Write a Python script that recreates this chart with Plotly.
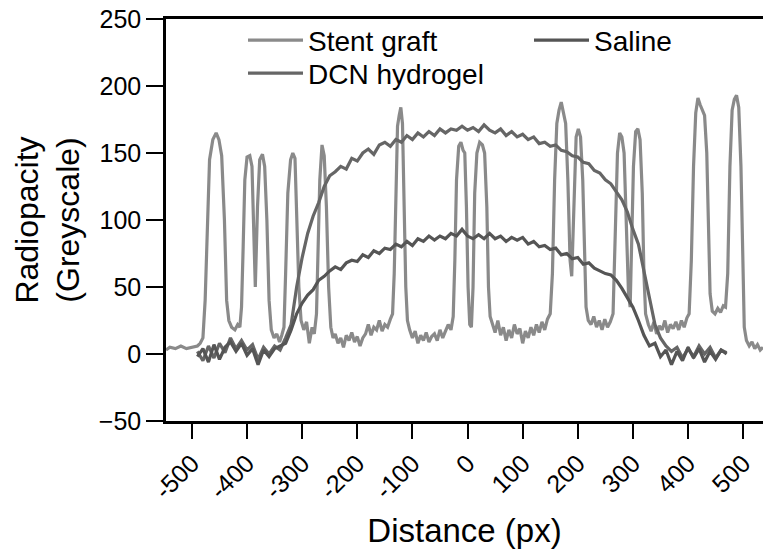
import plotly.graph_objects as go

# ---------------- data ----------------
# Stent graft profile: distance (px) and radiopacity
stent_x = [-547, -540, -530, -520, -510, -500, -490, -485, -480, -476, -472, -468, -462, -456, -451,
           -446, -441, -437, -433, -428, -422, -417, -413, -410, -407, -404, -400, -395, -391, -388,
           -385, -381, -377, -372, -368, -364, -360, -356, -351, -346, -341, -337, -333, -330, -326,
           -321, -317, -313, -310, -306, -302, -297, -292, -287, -282, -278, -274, -271, -268, -264,
           -260, -256, -252, -248, -244, -240, -235, -230, -225, -220, -215, -210, -205, -200, -195,
           -190, -185, -180, -175, -170, -165, -160, -155, -150, -145, -140, -136, -133, -130, -127,
           -124, -121, -118, -115, -112, -109, -105, -100, -95, -90, -85, -80, -75, -70, -65,
           -60, -55, -50, -45, -40, -35, -30, -26, -23, -20, -16, -12, -8, -5, -2,
           1, 4, 7, 10, 13, 17, 22, 27, 31, 35, 38, 41, 45, 50, 55,
           60, 65, 70, 75, 80, 85, 90, 95, 100, 105, 110, 115, 120, 125, 130,
           135, 140, 145, 150, 154, 158, 162, 166, 170, 174, 178, 182, 186, 189, 193,
           197, 201, 205, 209, 212, 215, 219, 224, 229, 234, 239, 244, 249, 254, 259,
           264, 268, 272, 276, 280, 284, 288, 292, 295, 298, 301, 305, 309, 313, 317,
           320, 323, 328, 333, 338, 343, 348, 353, 358, 363, 368, 373, 378, 383, 388,
           393, 398, 402, 406, 410, 414, 418, 422, 426, 430, 434, 437, 440, 444, 449,
           454, 459, 464, 468, 472, 476, 480, 484, 488, 492, 496, 499, 502, 506, 511,
           516, 521, 526, 531, 536]
stent_y = [3, 5, 4, 6, 4, 5, 6, 8, 12, 40, 100, 145, 160, 165, 160,
           148, 100, 40, 25, 20, 18, 22, 20, 35, 80, 130, 147, 148, 140, 100,
           50, 110, 145, 149, 140, 100, 40, 18, 12, 15, 9, 14, 20, 60, 120,
           145, 150, 146, 110, 50, 25, 18, 24, 8, 20, 15, 30, 80, 130, 156,
           148, 110, 50, 20, 12, 15, 8, 12, 5, 14, 10, 16, 9, 13, 6,
           12, 15, 22, 14, 20, 18, 25, 17, 22, 20, 26, 30, 60, 130, 170,
           178, 184, 172, 120, 50, 25, 18, 12, 17, 8, 14, 10, 16, 9, 13,
           15, 10, 18, 12, 17, 22, 18, 28, 70, 130, 155, 158, 152, 150, 110,
           50, 22, 20, 50, 120, 150, 158, 156, 150, 110, 50, 28, 22, 16, 25,
           14, 20, 10, 18, 12, 22, 15, 19, 8, 17, 12, 20, 14, 22, 16,
           24, 18, 26, 30, 60, 130, 172, 182, 188, 180, 172, 130, 70, 58, 120,
           162, 168, 162, 130, 70, 35, 25, 22, 28, 20, 25, 18, 26, 20, 24,
           30, 90, 150, 165, 162, 150, 100, 45, 35, 80, 140, 166, 168, 160, 120,
           60, 30, 22, 17, 24, 15, 21, 18, 25, 16, 22, 19, 24, 18, 25,
           20, 27, 30, 70, 140, 180, 191, 186, 182, 178, 150, 90, 45, 32, 30,
           34, 31, 36, 35, 60, 140, 182, 190, 193, 184, 140, 70, 20, 10, 6,
           9, 4, 7, 3, 5]

# Hydrogel / saline profiles sampled every 10 px from -490 to 470
gel_x = list(range(-490, 480, 10))
dcn_y = [2, -5, 6, -3, 8, 1, 12, 4, 10, 3, 7, -4, 5, 0, 6, 3,
         12, 22, 50, 72, 90, 103, 113, 125, 133, 136, 140, 138, 146, 144, 150, 153,
         149, 156, 158, 155, 160, 158, 163, 160, 165, 162, 166, 163, 168, 165, 168, 167,
         170, 167, 169, 166, 171, 167, 165, 168, 163, 166, 162, 164, 160, 162, 157, 158,
         155, 156, 152, 151, 148, 147, 143, 142, 137, 135, 130, 127, 121, 115, 106, 93,
         82, 63, 42, 22, 12, 6, 2, 5, -3, 4, -2, 6, 0, 5, -3, 3, 1]
saline_y = [-2, 4, -6, 7, -4, 5, 9, 2, 8, -1, 4, -8, 3, -2, 4, 6,
            8, 18, 30, 38, 44, 48, 55, 58, 62, 65, 63, 68, 70, 69, 74, 72,
            77, 75, 79, 78, 82, 80, 84, 81, 86, 84, 88, 85, 88, 86, 90, 88,
            93, 88, 86, 89, 86, 90, 86, 88, 84, 87, 85, 87, 82, 84, 80, 81,
            78, 79, 74, 75, 71, 72, 67, 68, 64, 62, 60, 59, 55, 49, 42, 35,
            25, 14, 6, 8, -2, 3, -8, 2, -5, 5, -3, 4, -6, 2, -4, 3, 0]

x_ticks = [-500, -400, -300, -200, -100, 0, 100, 200, 300, 400, 500]
y_ticks = [-50, 0, 50, 100, 150, 200, 250]

FONT = "Arial, Liberation Sans, Helvetica, sans-serif"
PLOT_L, PLOT_W, PLOT_T, PLOT_H = 166, 597, 18.5, 402.2


def px_to_paper_x(px):
    return (px - PLOT_L) / PLOT_W


def px_to_paper_y(py):
    return 1 - (py - PLOT_T) / PLOT_H


legend_style = dict(xanchor="left", yanchor="top", bgcolor="rgba(0,0,0,0)",
                    font=dict(size=28, family=FONT), itemwidth=55)

fig = go.Figure()
fig.add_trace(go.Scatter(x=stent_x, y=stent_y, mode="lines", name="Stent graft",
                         line=dict(color="#8a8a8a", width=3.2), legend="legend",
                         showlegend=True))
fig.add_trace(go.Scatter(x=gel_x, y=dcn_y, mode="lines", name="DCN hydrogel",
                         line=dict(color="#666666", width=3.2), legend="legend2",
                         showlegend=True))
fig.add_trace(go.Scatter(x=gel_x, y=saline_y, mode="lines", name="Saline",
                         line=dict(color="#555555", width=3.2), legend="legend3",
                         showlegend=True))

fig.update_layout(
    width=763, height=554,
    showlegend=True,
    margin=dict(l=PLOT_L, r=0, t=PLOT_T, b=554 - PLOT_T - PLOT_H),
    paper_bgcolor="white", plot_bgcolor="white",
    font=dict(family=FONT, color="black"),
    legend=dict(x=px_to_paper_x(243), y=px_to_paper_y(15), **legend_style),
    legend2=dict(x=px_to_paper_x(243), y=px_to_paper_y(48), **legend_style),
    legend3=dict(x=px_to_paper_x(529), y=px_to_paper_y(15), **legend_style),
    xaxis=dict(range=[-547, 536], tickmode="array", tickvals=x_ticks,
               ticktext=[str(v) for v in x_ticks], tickangle=-45,
               ticks="outside", ticklen=15, tickwidth=2, tickcolor="black",
               showline=True, linewidth=2.5, linecolor="black", mirror=True,
               showgrid=False, zeroline=False,
               tickfont=dict(size=25, family=FONT),
               title=dict(text="Distance (px)", font=dict(size=33, family=FONT), standoff=16)),
    yaxis=dict(range=[-50, 250], tickmode="array", tickvals=y_ticks,
               ticks="outside", ticklen=17, tickwidth=2, tickcolor="black",
               showline=True, linewidth=2.5, linecolor="black",
               showgrid=False, zeroline=False,
               tickfont=dict(size=25, family=FONT),
               title=dict(text="Radiopacity<br>(Greyscale)", font=dict(size=32, family=FONT), standoff=10)),
)

fig.write_html("out.html")
